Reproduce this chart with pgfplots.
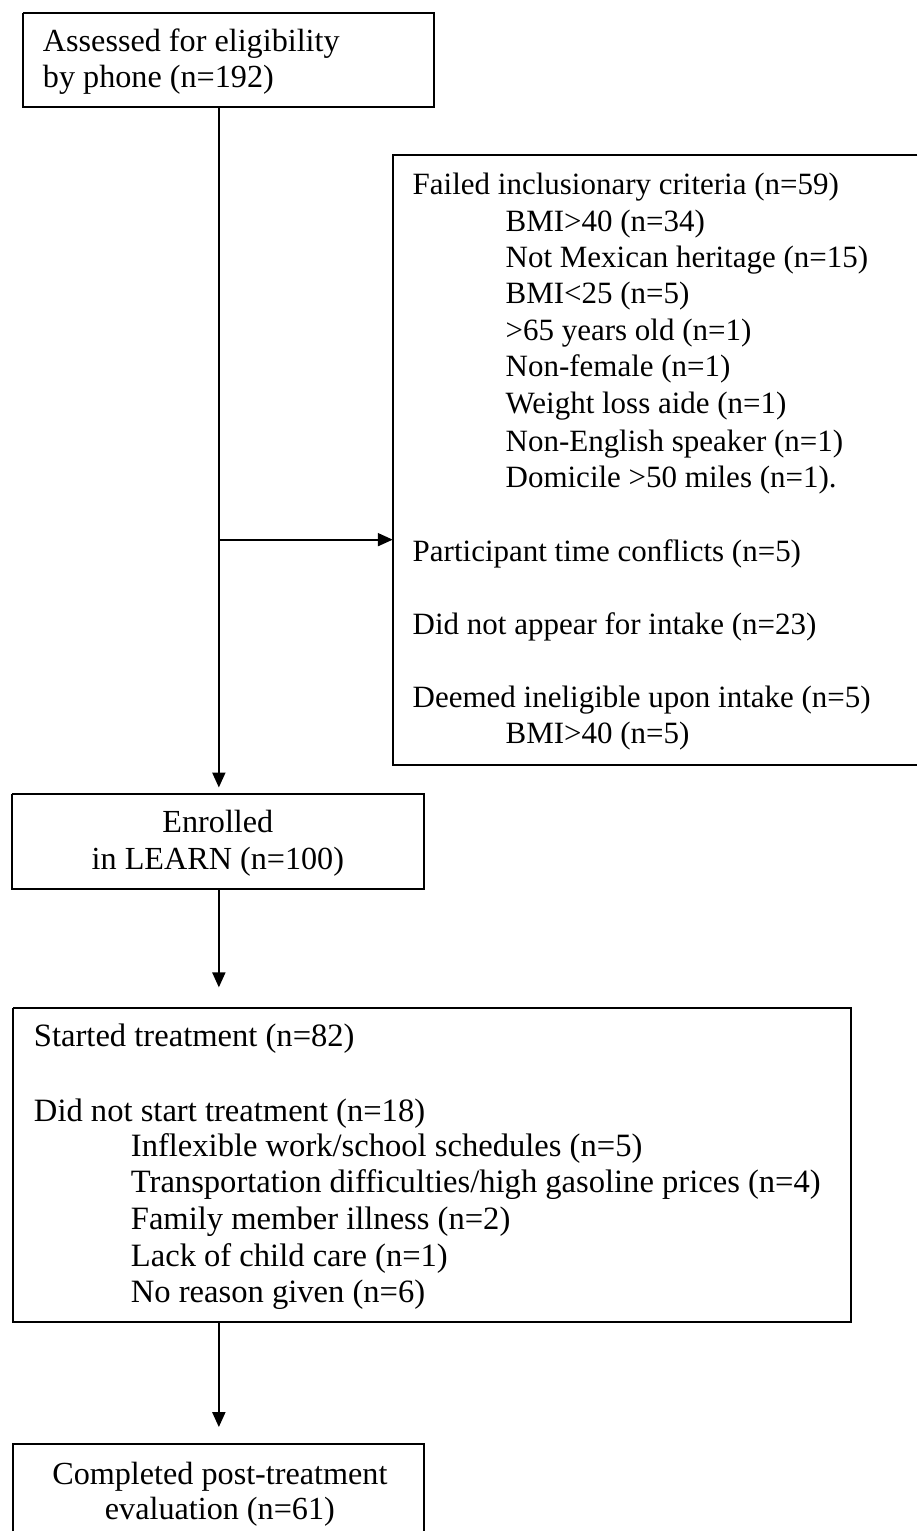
\documentclass[border=0pt]{standalone}
\usepackage{pgfplots}
\pgfplotsset{compat=1.18}
\usepackage{fontspec}
\setmainfont{Liberation Serif}
\usetikzlibrary{arrows.meta}
\tikzset{
  lw/.style={anchor=base west, inner sep=0pt, outer sep=0pt},
  lc/.style={anchor=base, inner sep=0pt, outer sep=0pt},
  fa/.style={font=\fontsize{15.5}{18.3}\selectfont},
  fb/.style={font=\fontsize{16.1}{19}\selectfont},
  fc/.style={font=\fontsize{16.3}{19}\selectfont},
}
\begin{document}
\begin{tikzpicture}
\begin{axis}[
  scale only axis, width=459pt, height=766pt,
  xmin=0, xmax=918, ymin=0, ymax=1532, y dir=reverse,
  axis lines=none, clip=false,
]
% frame (invisible, sets the page size)
\addplot[draw=none] coordinates {(0,0) (918,1532)};
% boxes
\addplot[black, line width=1pt] coordinates {(23,13) (434,13) (434,107) (23,107) (23,13)};
\addplot[black, line width=1pt] coordinates {(918,155) (393,155) (393,765) (918,765)};
\addplot[black, line width=1pt] coordinates {(12,795) (424,795) (424,890) (12,890) (12,795)};
\addplot[black, line width=1pt] coordinates {(13,1009) (852,1009) (852,1323) (13,1323) (13,1009)};
\addplot[black, line width=1pt] coordinates {(13,1532) (13,1445) (424,1445) (424,1532)};
% arrows
\addplot[black, line width=1pt, -{Triangle[width=6.5pt,length=7.5pt]}] coordinates {(219,107) (219,788)};
\addplot[black, line width=1pt, -{Triangle[width=6.5pt,length=7.5pt]}] coordinates {(219,540) (393,540)};
\addplot[black, line width=1pt, -{Triangle[width=6.5pt,length=7.5pt]}] coordinates {(219,890) (219,988)};
\addplot[black, line width=1pt, -{Triangle[width=6.5pt,length=7.5pt]}] coordinates {(219,1323) (219,1428)};
% box 1
\node[lw,fb] at (axis cs:43,52) {Assessed for eligibility};
\node[lw,fb] at (axis cs:43,88) {by phone (n=192)};
% right box
\node[lw,fa] at (axis cs:413,195) {Failed inclusionary criteria (n=59)};
\node[lw,fa] at (axis cs:506,232) {BMI>40 (n=34)};
\node[lw,fa] at (axis cs:506,268) {Not Mexican heritage (n=15)};
\node[lw,fa] at (axis cs:506,304) {BMI<25 (n=5)};
\node[lw,fa] at (axis cs:506,341) {>65 years old (n=1)};
\node[lw,fa] at (axis cs:506,377) {Non-female (n=1)};
\node[lw,fa] at (axis cs:506,414) {Weight loss aide (n=1)};
\node[lw,fa] at (axis cs:506,452) {Non-English speaker (n=1)};
\node[lw,fa] at (axis cs:506,488) {Domicile >50 miles (n=1).};
\node[lw,fa] at (axis cs:413,562) {Participant time conflicts (n=5)};
\node[lw,fa] at (axis cs:413,635) {Did not appear for intake (n=23)};
\node[lw,fa] at (axis cs:413,708) {Deemed ineligible upon intake (n=5)};
\node[lw,fa] at (axis cs:506,744) {BMI>40 (n=5)};
% enrolled
\node[lc,fb] at (axis cs:218,833) {Enrolled};
\node[lc,fb] at (axis cs:218,870) {in LEARN (n=100)};
% box 3
\node[lw,fc] at (axis cs:34,1047) {Started treatment (n=82)};
\node[lw,fc] at (axis cs:34,1122) {Did not start treatment (n=18)};
\node[lw,fc] at (axis cs:131,1157) {Inflexible work/school schedules (n=5)};
\node[lw,fc] at (axis cs:131,1193) {Transportation difficulties/high gasoline prices (n=4)};
\node[lw,fc] at (axis cs:131,1230) {Family member illness (n=2)};
\node[lw,fc] at (axis cs:131,1267) {Lack of child care (n=1)};
\node[lw,fc] at (axis cs:131,1303) {No reason given (n=6)};
% box 4
\node[lc,fb] at (axis cs:220,1485) {Completed post-treatment};
\node[lc,fb] at (axis cs:220,1520) {evaluation (n=61)};
\end{axis}
\end{tikzpicture}
\end{document}
